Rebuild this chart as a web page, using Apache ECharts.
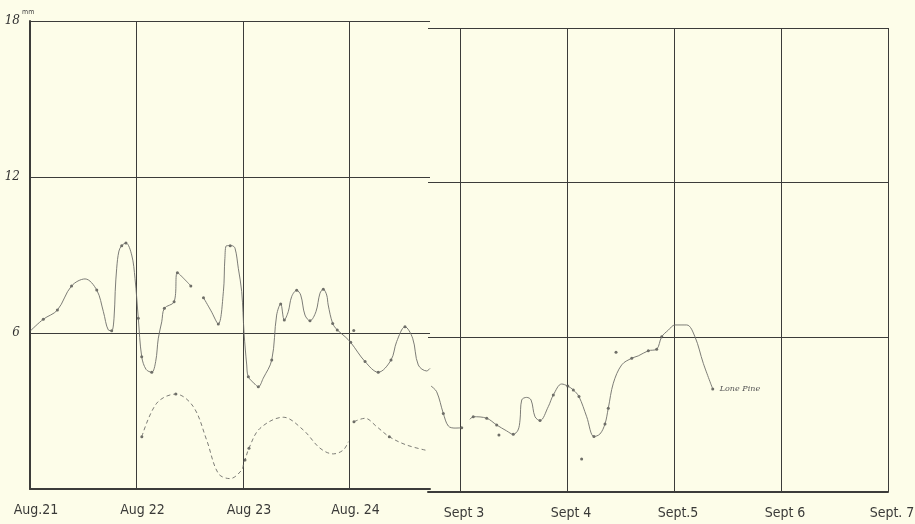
<!DOCTYPE html>
<html>
<head>
<meta charset="utf-8">
<script src="https://cdn.jsdelivr.net/npm/echarts@6/dist/echarts.min.js"></script>
<style>
  html, body { margin: 0; padding: 0; background: #fdfde9; }
  #chart { width: 915px; height: 524px; }
</style>
</head>
<body>
<div id="chart"></div>
<script>
// Day labels for the two panels (x = days after the first labelled day)
const augLabels = ['Aug.21', 'Aug 22', 'Aug 23', 'Aug. 24'];
const septLabels = ['Sept 3', 'Sept 4', 'Sept.5', 'Sept 6', 'Sept. 7'];
const yTicks = [0, 6, 12, 18];

// August record, solid trace [day, mm]
const augSolidA = [
  [0.006, 6.09], [0.125, 6.53], [0.257, 6.88], [0.39, 7.81], [0.517, 8.08], [0.627, 7.65],
  [0.689, 6.82], [0.735, 6.12], [0.767, 6.09], [0.789, 6.57], [0.80, 7.59], [0.814, 8.49],
  [0.835, 9.15], [0.861, 9.36], [0.901, 9.46], [0.955, 9.0], [0.986, 8.1], [1.017, 6.57],
  [1.049, 5.09], [1.09, 4.6], [1.143, 4.49], [1.18, 4.9], [1.205, 5.80], [1.237, 6.43],
  [1.262, 6.95], [1.353, 7.20], [1.384, 8.32], [1.45, 8.07], [1.510, 7.81]
];
const augSolidB = [
  [1.629, 7.36], [1.70, 6.85], [1.768, 6.35], [1.816, 7.59], [1.83, 8.87], [1.847, 9.36],
  [1.894, 9.36], [1.925, 9.26], [1.956, 8.49], [1.988, 7.59], [2.01, 6.0], [2.035, 4.77],
  [2.05, 4.32], [2.113, 4.03], [2.144, 3.93], [2.19, 4.26], [2.27, 4.96], [2.316, 6.69],
  [2.354, 7.12], [2.388, 6.5], [2.425, 6.82], [2.457, 7.40], [2.504, 7.64], [2.542, 7.46],
  [2.582, 6.69], [2.629, 6.47], [2.685, 6.82], [2.723, 7.53], [2.754, 7.68], [2.786, 7.46],
  [2.80, 7.08], [2.842, 6.37], [2.885, 6.12], [2.958, 5.86], [3.011, 5.64], [3.146, 4.90],
  [3.27, 4.49], [3.39, 4.96], [3.443, 5.67], [3.521, 6.24], [3.593, 5.80], [3.646, 4.77],
  [3.725, 4.54], [3.756, 4.64]
];
const augSolidObs = [
  [0.125, 6.53], [0.257, 6.88], [0.39, 7.81], [0.627, 7.65], [0.767, 6.09], [0.861, 9.36],
  [0.901, 9.46], [1.017, 6.57], [1.049, 5.09], [1.143, 4.49], [1.262, 6.95], [1.353, 7.20],
  [1.384, 8.32], [1.510, 7.81], [1.629, 7.36], [1.768, 6.35], [1.88, 9.36], [2.05, 4.32],
  [2.144, 3.93], [2.27, 4.96], [2.354, 7.12], [2.388, 6.5], [2.504, 7.64], [2.629, 6.47],
  [2.754, 7.68], [2.842, 6.37], [2.885, 6.12], [3.011, 5.64], [3.04, 6.1], [3.146, 4.90],
  [3.27, 4.49], [3.39, 4.96], [3.521, 6.24]
];

// August record, dashed trace [day, mm]
const augDashedA = [
  [1.05, 2.01], [1.19, 3.30], [1.369, 3.65], [1.533, 3.17], [1.659, 1.88], [1.768, 0.60],
  [1.878, 0.40], [1.988, 0.73], [2.009, 1.05], [2.019, 1.12], [2.056, 1.57], [2.159, 2.33],
  [2.378, 2.76], [2.566, 2.27], [2.723, 1.57], [2.848, 1.35], [2.942, 1.5], [2.989, 1.82]
];
const augDashedB = [
  [3.042, 2.59], [3.146, 2.72], [3.255, 2.40], [3.374, 2.01], [3.537, 1.69], [3.74, 1.47]
];
const augDashedObs = [
  [1.05, 2.01], [1.369, 3.65], [2.019, 1.12], [2.056, 1.57], [3.042, 2.59], [3.374, 2.01]
];

// September record (Lone Pine) [day after Sept 3, mm]
const septA = [
  [-0.271, 4.11], [-0.218, 3.89], [-0.156, 3.05], [-0.109, 2.56], [-0.047, 2.48], [0.016, 2.49]
];
const septB = [
  [0.093, 2.82], [0.124, 2.92], [0.25, 2.86], [0.343, 2.60], [0.436, 2.37], [0.498, 2.24],
  [0.542, 2.4], [0.561, 2.79], [0.577, 3.57], [0.623, 3.67], [0.664, 3.57], [0.701, 2.92],
  [0.748, 2.77], [0.825, 3.31], [0.872, 3.76], [0.950, 4.19], [1.007, 4.11], [1.059, 3.96],
  [1.112, 3.70], [1.184, 2.92], [1.252, 2.15], [1.308, 2.25], [1.355, 2.64], [1.386, 3.25],
  [1.433, 4.22], [1.511, 4.93], [1.605, 5.19], [1.666, 5.28], [1.760, 5.48], [1.838, 5.54],
  [1.885, 6.02], [1.947, 6.28], [2.009, 6.48], [2.119, 6.48], [2.196, 6.02], [2.274, 4.99],
  [2.362, 4.0]
];
const septObs = [
  [-0.156, 3.05], [0.016, 2.49], [0.124, 2.92], [0.25, 2.86], [0.343, 2.60], [0.364, 2.21],
  [0.498, 2.24], [0.748, 2.77], [0.872, 3.76], [1.007, 4.11], [1.059, 3.96], [1.112, 3.70],
  [1.137, 1.28], [1.252, 2.15], [1.355, 2.64], [1.386, 3.25], [1.458, 5.42], [1.605, 5.19],
  [1.760, 5.48], [1.838, 5.54], [1.885, 6.02], [2.362, 4.0]
];

const ink = '#3c3c3a';
const traceColor = '#6e6e6a';
const labelFont = "'DejaVu Sans Condensed', 'DejaVu Sans', sans-serif";

function dayLabel(list) {
  return function (v) {
    const r = Math.round(v);
    return Math.abs(v - r) < 1e-6 && list[r] !== undefined ? list[r] : '';
  };
}

const xLabelStyle = {
  margin: 14, color: '#3a3a38', fontSize: 14, fontFamily: labelFont,
  padding: [0, 0, 0, 12], showMinLabel: true
};

function trace(data, xi, opts) {
  return Object.assign({
    type: 'line', xAxisIndex: xi, yAxisIndex: xi, data: data,
    smooth: 0.35, symbol: 'none', silent: true,
    lineStyle: { color: traceColor, width: 0.9 }
  }, opts || {});
}
function obs(data, xi) {
  return {
    type: 'scatter', xAxisIndex: xi, yAxisIndex: xi, data: data,
    symbol: 'circle', symbolSize: 3, silent: true,
    itemStyle: { color: '#4a4a46' }
  };
}

const chart = echarts.init(document.getElementById('chart'), null, { renderer: 'canvas' });
chart.setOption({
  backgroundColor: '#fdfde9',
  animation: false,
  grid: [
    { left: 30, top: 21, width: 400, height: 468, outerBoundsMode: 'none', containLabel: false },
    { left: 428, top: 28, width: 460, height: 464, outerBoundsMode: 'none', containLabel: false }
  ],
  xAxis: [
    {
      type: 'value', gridIndex: 0, min: 0, max: 3.756, interval: 1,
      axisLine: { show: true, lineStyle: { color: ink, width: 2 } },
      axisTick: { show: false },
      splitLine: { show: true, showMaxLine: false, lineStyle: { color: ink, width: 1 } },
      axisLabel: Object.assign({ formatter: dayLabel(augLabels), showMaxLabel: false }, xLabelStyle)
    },
    {
      type: 'value', gridIndex: 1, min: -0.299, max: 4, minInterval: 1, maxInterval: 1,
      axisLine: { show: true, lineStyle: { color: ink, width: 2 } },
      axisTick: { show: false },
      splitLine: { show: true, showMinLine: false, lineStyle: { color: ink, width: 1 } },
      axisLabel: Object.assign({ formatter: dayLabel(septLabels), showMaxLabel: true }, xLabelStyle,
        { showMinLabel: false, padding: [0, 0, 0, 8] })
    }
  ],
  yAxis: [
    {
      type: 'value', gridIndex: 0, min: yTicks[0], max: yTicks[3], interval: 6,
      axisLine: { show: true, lineStyle: { color: ink, width: 2 } },
      axisTick: { show: false },
      splitLine: { show: true, lineStyle: { color: ink, width: 1 } },
      axisLabel: {
        margin: 10, color: '#333', fontSize: 12, fontStyle: 'italic',
        fontFamily: "'DejaVu Serif', serif",
        formatter: v => (v === 0 ? '' : String(v))
      }
    },
    {
      type: 'value', gridIndex: 1, min: yTicks[0], max: yTicks[3], interval: 6,
      axisLine: { show: false },
      axisTick: { show: false },
      axisLabel: { show: false },
      splitLine: { show: true, lineStyle: { color: ink, width: 1 } }
    }
  ],
  graphic: [
    {
      type: 'text', left: 22, top: 9,
      style: { text: 'mm', fontSize: 7, fill: '#444', fontFamily: labelFont }
    }
  ],
  series: [
    trace(augSolidA, 0),
    trace(augSolidB, 0),
    obs(augSolidObs, 0),
    trace(augDashedA, 0, { lineStyle: { color: traceColor, width: 0.9, type: [4, 3] } }),
    trace(augDashedB, 0, { lineStyle: { color: traceColor, width: 0.9, type: [4, 3] } }),
    obs(augDashedObs, 0),
    trace(septA, 1),
    trace(septB, 1, {
      endLabel: {
        show: true, formatter: 'Lone Pine', distance: 7,
        fontSize: 8, fontStyle: 'italic', color: '#555', fontFamily: "'DejaVu Serif', serif"
      }
    }),
    obs(septObs, 1)
  ]
});
</script>
</body>
</html>
